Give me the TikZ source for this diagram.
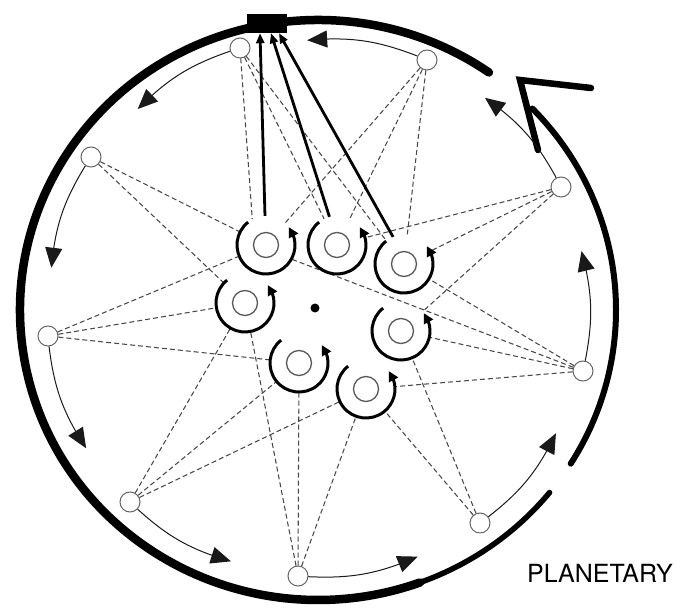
\documentclass[tikz,border=0pt]{standalone}
\usepackage{fontspec}
\setmainfont{TeX Gyre Heros}
\usetikzlibrary{arrows.meta,bending}
\begin{document}
\begin{tikzpicture}[x=1pt,y=1pt,
  planet/.style={circle, draw=black!60, line width=1pt, fill=white, minimum size=20pt, inner sep=0pt},
  hub/.style={circle, minimum size=58pt, inner sep=0pt},
  innerring/.style={draw=black!65, line width=1.3pt},
  spin/.style={line width=3pt, -{Triangle[length=10pt,width=10pt]}},
  link/.style={draw=black!72, line width=1.05pt, dash pattern=on 5pt off 3pt},
  orbit/.style={line width=1pt, draw=black!90, -{Triangle[length=20pt,width=17pt]}},
  feed/.style={line width=2.8pt, -{Triangle[length=10pt,width=8pt]}},
  ring/.style={line width=8.5pt, line cap=round}
]
\useasboundingbox (0,0) rectangle (688,-609);
\coordinate (C) at (318,-310);

% outer ring
\draw[ring] ([shift={(55:298 and 290)}]C) arc[start angle=55,end angle=290,x radius=298,y radius=290];
\draw[ring, line width=5.5pt] ([shift={(288:298 and 290)}]C) arc[start angle=288,end angle=321,x radius=298,y radius=290];
\draw[ring, line width=6pt] ([shift={(328:298 and 290)}]C) arc[start angle=328,end angle=404,x radius=298,y radius=290];
\coordinate (v1) at (591,-88);
\coordinate (v0) at (520,-80);
\coordinate (v2) at (538,-150);
\draw[line width=6.5pt, line join=miter, line cap=round] (v1) -- (v0) -- (v2);

% top block
\node[fill=black, minimum width=40pt, minimum height=19pt, inner sep=0pt] (R) at (267,-23.5) {};

% planets
\node[planet] (P1) at (240,-48) {};
\node[planet] (P2) at (427,-60) {};
\node[planet] (P3) at (561,-187) {};
\node[planet] (P4) at (583,-371) {};
\node[planet] (P5) at (480,-523) {};
\node[planet] (P6) at (298,-576) {};
\node[planet] (P7) at (130,-502) {};
\node[planet] (P8) at (48,-336) {};
\node[planet] (P9) at (91,-157) {};

% hubs
\node[hub] (I1) at (266,-245) {};
\node[hub] (I2) at (337,-245) {};
\node[hub] (I3) at (404,-264) {};
\node[hub] (I4) at (245,-303) {};
\node[hub] (I5) at (401,-331) {};
\node[hub] (I6) at (299,-363) {};
\node[hub] (I7) at (366,-389) {};
\node[circle, fill=black, minimum size=9pt, inner sep=0pt] (dot) at (315,-308) {};

% dashed links
\draw[link] (P1) -- (I1.118);
\draw[link] (P1) -- (I2);
\draw[link] (P1) -- (I3);
\draw[link] (P2) -- (I1);
\draw[link] (P2) -- (I2);
\draw[link] (P2) -- (I3);
\draw[link] (P3) -- (I2);
\draw[link] (P3) -- (I3);
\draw[link] (P3) -- (I5);
\draw[link] (P4) -- (I3);
\draw[link] (P4) -- (I1.-29);
\draw[link] (P4) -- (I5);
\draw[link] (P4) -- (I7);
\draw[link] (P5) -- (I7);
\draw[link] (P5) -- (I5);
\draw[link] (P6) -- (I4);
\draw[link] (P6) -- (I6);
\draw[link] (P6) -- (I7);
\draw[link] (P7) -- (I4);
\draw[link] (P7) -- (I6);
\draw[link] (P7) -- (I7);
\draw[link] (P8) -- (I1);
\draw[link] (P8) -- (I4);
\draw[link] (P8) -- (I6);
\draw[link] (P9) -- (I1);
\draw[link] (P9) -- (I4);

% spinning hubs
\foreach \n in {I1,I2,I3,I4,I5,I6,I7} {
  \draw[innerring] (\n.center) circle[radius=12.5];
  \draw[spin] ([shift={(128:29)}]\n.center) arc[start angle=128,end angle=398,radius=29];
}

% feeds to the block
\draw[feed] (I1.92) -- ([xshift=-7pt]R.south);
\draw[feed] (I2.105) -- ([xshift=4pt]R.south);
\draw[feed] (I3.112) -- ([xshift=12pt]R.south);

% orbit arrows
\path (C) ++(92.3:270) coordinate (t2);
\path (C) ++(131.9:270) coordinate (t1);
\path (C) ++(171:270) coordinate (t9);
\path (C) ++(210.8:270) coordinate (t8);
\path (C) ++(250.9:266) coordinate (t7);
\path (C) ++(292:266) coordinate (t6);
\path (C) ++(332.6:268) coordinate (t5);
\path (C) ++(372.6:270) coordinate (t4);
\path (C) ++(51.8:270) coordinate (t3);
\draw[orbit] (P2) to[bend right=13] (t2);
\draw[orbit] (P1) to[bend right=13] (t1);
\draw[orbit] (P9) to[bend right=13] (t9);
\draw[orbit] (P8) to[bend right=13] (t8);
\draw[orbit] (P7) to[bend right=13] (t7);
\draw[orbit] (P6) to[bend right=13] (t6);
\draw[orbit] (P5) to[bend right=13] (t5);
\draw[orbit] (P4) to[bend right=13] (t4);
\draw[orbit] (P3) to[bend right=13] (t3);

\node[anchor=base west, font=\fontsize{25}{30}\selectfont, text=black, inner sep=0pt] (lab) at (527,-582) {PLANETARY};
\end{tikzpicture}
\end{document}
